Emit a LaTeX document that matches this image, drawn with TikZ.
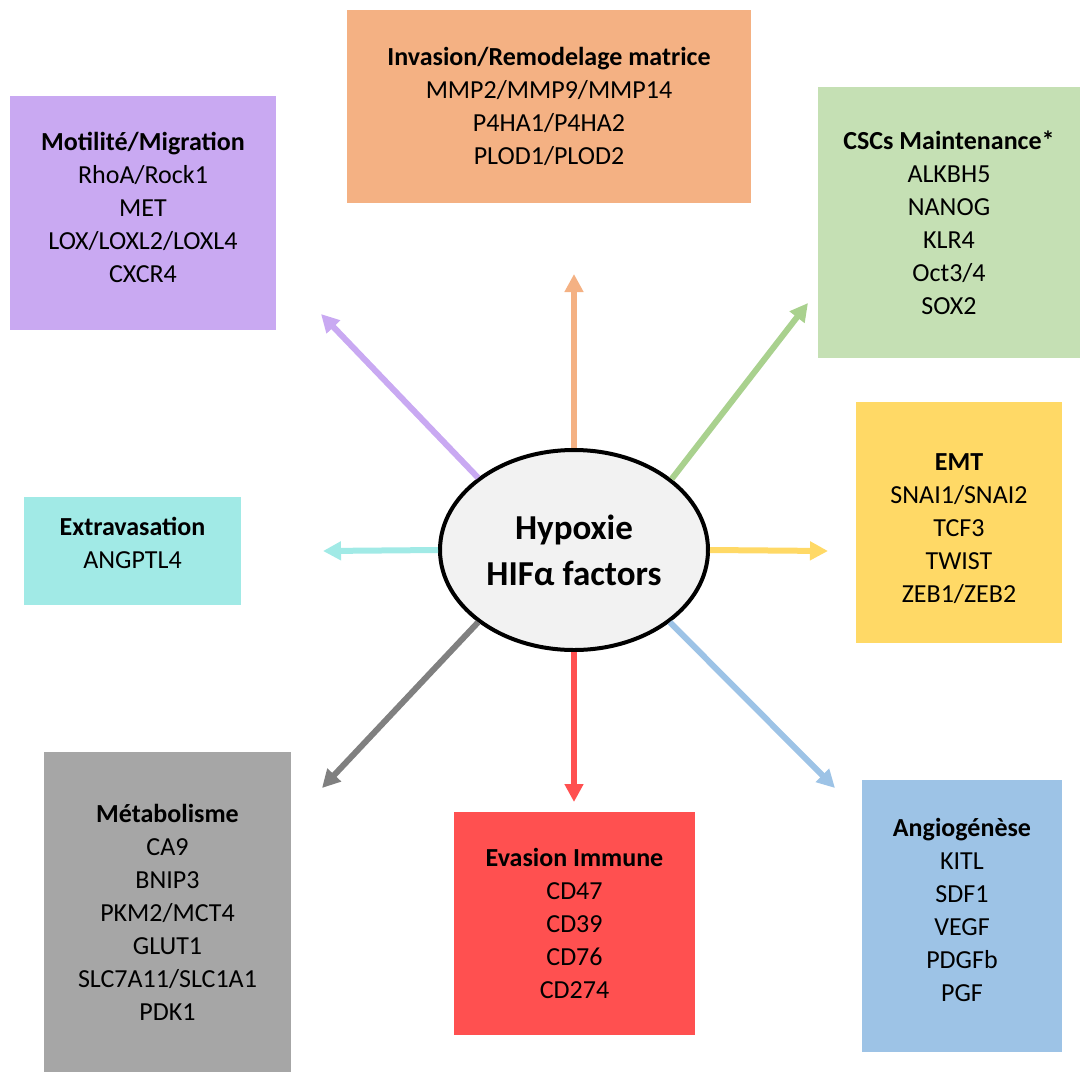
\documentclass[tikz,border=0pt]{standalone}
\usepackage{fontspec}
\setmainfont{Carlito}
\usetikzlibrary{arrows.meta,shapes.geometric}

\definecolor{cmot}{HTML}{C9A9F2}
\definecolor{cinv}{HTML}{F4B183}
\definecolor{ccsc}{HTML}{C5E0B4}
\definecolor{acsc}{HTML}{A9D18E}
\definecolor{cemt}{HTML}{FFD966}
\definecolor{cext}{HTML}{A1EAE6}
\definecolor{cmet}{HTML}{A6A6A6}
\definecolor{amet}{HTML}{808080}
\definecolor{ceva}{HTML}{FF5050}
\definecolor{cang}{HTML}{9DC3E6}
\definecolor{hypgray}{HTML}{F2F2F2}

\begin{document}
\begin{tikzpicture}[
    x=1pt, y=-1pt,
    every node/.style={font=\fontsize{26}{33}\selectfont},
    box/.style={rectangle, draw=none, inner sep=0pt, align=center},
    hyp/.style={ellipse, draw=black, line width=4pt, fill=hypgray,
                minimum width=268pt, minimum height=200pt, inner sep=0pt,
                align=center, font=\fontsize{35}{46}\selectfont\bfseries},
    arr/.style={-{Triangle[length=18pt,width=18pt]}, line width=6pt}
]
\useasboundingbox (0,0) rectangle (1080,1072);

% boxes
\node[box, fill=cmot, minimum width=266pt, minimum height=234pt] (mot) at (143,213)
    {\textbf{Motilité/Migration}\\RhoA/Rock1\\MET\\LOX/LOXL2/LOXL4\\CXCR4\rule[-12pt]{0pt}{0pt}};
\node[box, fill=cinv, minimum width=404pt, minimum height=193pt] (inv) at (549,106.5)
    {\textbf{Invasion/Remodelage matrice}\\MMP2/MMP9/MMP14\\P4HA1/P4HA2\\PLOD1/PLOD2};
\node[box, fill=ccsc, minimum width=262pt, minimum height=271pt] (csc) at (949,222.5)
    {\textbf{CSCs Maintenance*}\\ALKBH5\\NANOG\\KLR4\\Oct3/4\\SOX2};
\node[box, fill=cemt, minimum width=206pt, minimum height=241pt] (emt) at (959,522.5)
    {\rule{0pt}{30pt}\textbf{EMT}\\SNAI1/SNAI2\\TCF3\\TWIST\\ZEB1/ZEB2};
\node[box, fill=cext, minimum width=217pt, minimum height=108pt] (ext) at (132.5,551)
    {\textbf{Extravasation}\\ANGPTL4\rule[-16pt]{0pt}{0pt}};
\node[box, fill=cmet, minimum width=247pt, minimum height=320pt] (met) at (167.5,912)
    {\textbf{Métabolisme}\\CA9\\BNIP3\\PKM2/MCT4\\GLUT1\\SLC7A11/SLC1A1\\PDK1};
\node[box, fill=ceva, minimum width=241pt, minimum height=223pt] (eva) at (574.5,923.5)
    {\textbf{Evasion Immune}\\CD47\\CD39\\CD76\\CD274};
\node[box, fill=cang, minimum width=200pt, minimum height=272pt] (ang) at (962,916)
    {\textbf{Angiogénèse}\\KITL\\SDF1\\VEGF\\PDGFb\\PGF\rule[-12pt]{0pt}{0pt}};

% centre
\node[hyp] (hyp) at (574,550) {Hypoxie\\HIFα factors};

% arrow tips
\coordinate (tmot) at (321,314);
\coordinate (tinv) at (574,274);
\coordinate (tcsc) at (808,303);
\coordinate (temt) at (828,551);
\coordinate (text) at (323,551);
\coordinate (tmet) at (322,788);
\coordinate (teva) at (574,802);
\coordinate (tang) at (835,788);

\draw[arr, cmot] (hyp.143) -- (tmot);
\draw[arr, cinv] (hyp.90)  -- (tinv);
\draw[arr, acsc] (hyp.36)  -- (tcsc);
\draw[arr, cemt] (hyp.0)   -- (temt);
\draw[arr, cext] (hyp.180) -- (text);
\draw[arr, amet] (hyp.217) -- (tmet);
\draw[arr, ceva] (hyp.270) -- (teva);
\draw[arr, cang] (hyp.323) -- (tang);
\end{tikzpicture}
\end{document}
